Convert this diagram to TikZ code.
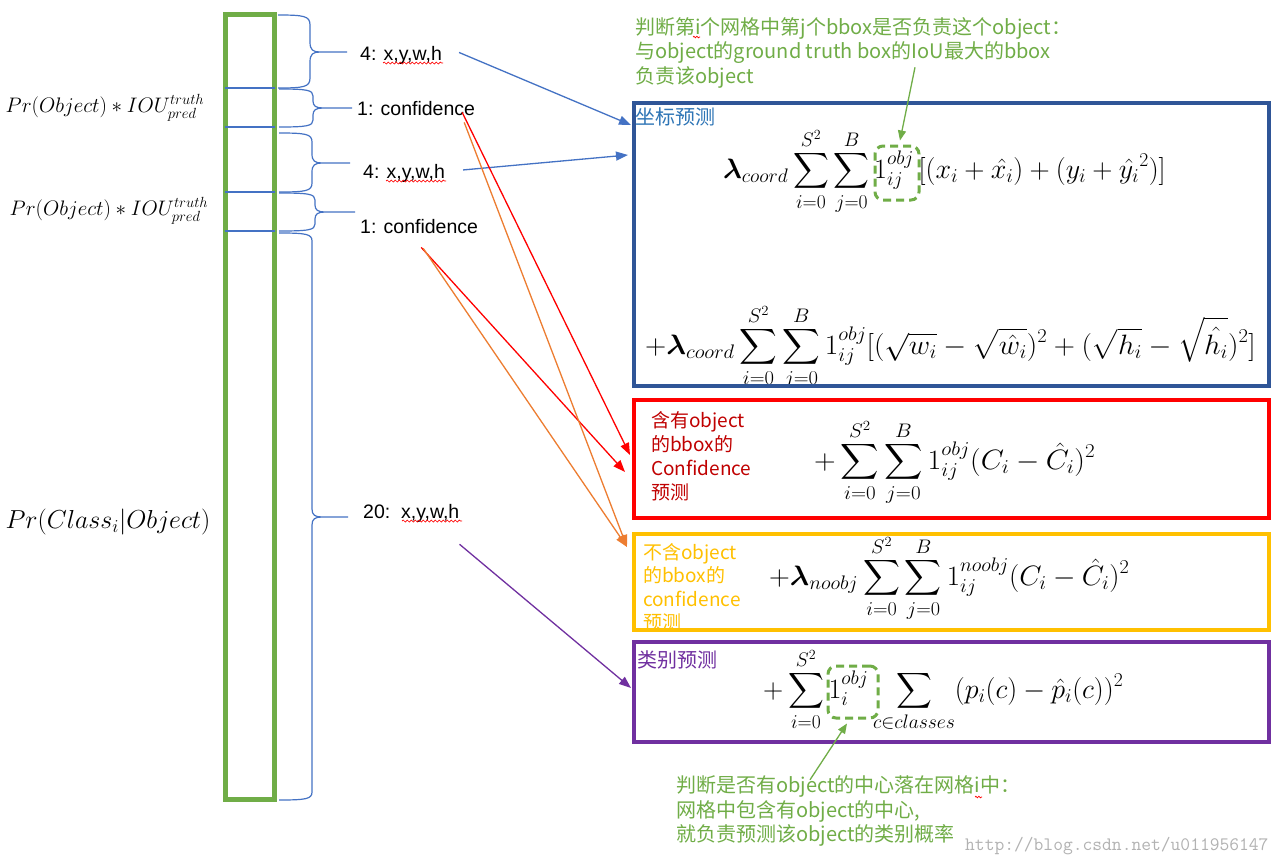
\RequirePackage{fix-cm}
\documentclass[tikz,border=0pt]{standalone}
\usepackage{amsmath}
\usepackage{graphicx}
\usepackage{fontspec}
\usetikzlibrary{arrows.meta,calc,decorations.pathmorphing}
\newfontfamily\cjk{Noto Sans CJK SC}
\newfontfamily\lblfont{Liberation Sans}
\definecolor{cgreen}{HTML}{70AD47}
\definecolor{cblue}{HTML}{4472C4}
\definecolor{cdblue}{HTML}{2F5597}
\definecolor{clblue}{HTML}{2E75B6}
\definecolor{cred}{HTML}{FF0000}
\definecolor{cdred}{HTML}{C00000}
\definecolor{cyellow}{HTML}{FFC000}
\definecolor{corange}{HTML}{ED7D31}
\definecolor{cpurple}{HTML}{7030A0}
\newcommand\mybrace[7]{% x0, spine, tip, ytop, ymid, ybot, r
  \draw[brc] (#1,#4) .. controls (#2-6,#4) and (#2,#4+1) .. (#2,#4+#7)
    -- (#2,#5-#7) .. controls (#2,#5-2) and (#2+3,#5) .. (#2+10,#5) -- (#3,#5)
    (#2+10,#5) .. controls (#2+3,#5) and (#2,#5+2) .. (#2,#5+#7)
    -- (#2,#6-#7) .. controls (#2,#6-1) and (#2-6,#6) .. (#1,#6);}
\newcommand\lcoord{\boldsymbol{\lambda}_{coord}}
\newcommand\lnoobj{\boldsymbol{\lambda}_{noobj}}
\tikzset{
  lbl/.style={font=\lblfont\fontsize{19.5}{22}\selectfont, inner sep=0, anchor=base west},
  cn/.style={font=\cjk\fontsize{20}{24}\selectfont, inner sep=0, align=left, anchor=north west},
  frm/.style={inner sep=0, anchor=west, font=\fontsize{28}{32}\selectfont},
  leftmath/.style={inner sep=0, font=\fontsize{21}{25}\selectfont},
  lossbox/.style={draw, line width=4pt, minimum width=635pt, inner sep=0, outer sep=0},
  brc/.style={draw=cblue, line width=1.2pt},
  arr/.style={line width=1.3pt, -{Triangle[length=12pt,width=9pt]}},
  garr/.style={draw=cgreen, line width=1.3pt, -{Triangle[length=10pt,width=8pt]}},
  dashbox/.style={draw=cgreen, line width=3pt, dash pattern=on 8pt off 5pt, rounded corners=8pt, inner sep=0},
  squig/.style={draw=red, line width=0.7pt, decorate, decoration={snake, segment length=4pt, amplitude=1pt}}
}
\begin{document}
\begin{tikzpicture}[x=1pt,y=-1pt]
\useasboundingbox (0,0) rectangle (1286,865);
\fill[white] (0,0) rectangle (1286,865);

% green column
\draw[cgreen, line width=5pt] (225.5,14.5) rectangle (274.5,799.5);
\foreach \yy in {88,127,192,231} \draw[cblue, line width=1.2pt] (225,\yy) -- (275,\yy);

% braces
\mybrace{278}{310}{347}{15}{52}{88}{10}
\mybrace{279}{313}{352}{89}{108}{127}{7}
\mybrace{279}{312}{350}{133}{163}{192}{9}
\mybrace{279}{315}{355}{193}{212}{231}{7}
\mybrace{279}{312}{348}{233}{517}{800}{8}

% left math labels
\node[leftmath] (prA) at (105,108) {$Pr(Object)*IOU^{truth}_{pred}$};
\node[leftmath] (prB) at (109,211) {$Pr(Object)*IOU^{truth}_{pred}$};
\node[leftmath, font=\fontsize{26}{30}\selectfont] (prC) at (108,522) {$Pr(Class_i|Object)$};

% middle labels
\node[lbl] (xywhA) at (360,60.5) {4: x,y,w,h};
\node[lbl] (confA) at (357,115) {1: confidence};
\node[lbl] (xywhB) at (363,178) {4: x,y,w,h};
\node[lbl] (confB) at (360,233) {1: confidence};
\node[lbl] (xywhC) at (363,518) {20:\ \ x,y,w,h};
\draw[squig] (383,63) -- (443,63);
\draw[squig] (386,181) -- (446,181);
\draw[squig] (402,521) -- (462,521);

% annotations
\node[cn, text=cgreen, font=\cjk\fontsize{20}{24.5}\selectfont] (annA) at (635,17.3) {判断第i个网格中第j个bbox是否负责这个object：\\与object的ground truth box的IoU最大的bbox\\负责该object};
\draw[squig, decoration={snake, segment length=3pt, amplitude=0.8pt}] (693,37) -- (700,37);
\node[cn, text=cgreen, font=\cjk\fontsize{20}{24.5}\selectfont] (annB) at (676,775.8) {判断是否有object的中心落在网格i中：\\网格中包含有object的中心,\\就负责预测该object的类别概率};
\draw[squig, decoration={snake, segment length=3pt, amplitude=0.8pt}] (975,797) -- (982,797);
\node[inner sep=0, anchor=base west, font=\ttfamily\fontsize{19}{22}\selectfont, text=black!30] (wm) at (965,850) {http://blog.csdn.net/u011956147};

% box labels
\node[cn, anchor=west, text=clblue] (coordlbl) at (635,117) {坐标预测};
\node[cn, text=cdred, font=\cjk\fontsize{19}{24}\selectfont] (objlbl) at (651,410.8) {含有object\\的bbox的\\Confidence\\预测};
\node[cn, text=cyellow, font=\cjk\fontsize{19}{23.5}\selectfont] (noobjlbl) at (643,542.8) {不含object\\的bbox的\\confidence\\预测};
\node[cn, anchor=west, text=cpurple] (clslbl) at (637,660) {类别预测};

% formulas
\node[frm] (fA) at (723,171) {$\displaystyle \lcoord\sum_{i=0}^{S^2}\sum_{j=0}^{B}1_{ij}^{obj}\,[(x_i+\hat{x_i})+(y_i+\hat{y_i}^2)]$};
\node[frm] (fB) at (645,347) {\scalebox{1.05}[1]{$\displaystyle +\lcoord\sum_{i=0}^{S^2}\sum_{j=0}^{B}1_{ij}^{obj}[(\sqrt{w_i}-\sqrt{\hat{w_i}})^2+(\sqrt{h_i}-\sqrt{\hat{h_i}})^2]$}};
\node[frm] (fC) at (814,462) {\scalebox{1.07}[1]{$\displaystyle +\sum_{i=0}^{S^2}\sum_{j=0}^{B}1_{ij}^{obj}(C_i-\hat{C_i})^2$}};
\node[frm] (fD) at (769,578) {\scalebox{1.03}[1]{$\displaystyle +\lnoobj\sum_{i=0}^{S^2}\sum_{j=0}^{B}1_{ij}^{noobj}(C_i-\hat{C_i})^2$}};
\node[frm] (fE) at (763,690) {$\displaystyle +\sum_{i=0}^{S^2}1_{i}^{obj}\sum_{c\in classes}(p_i(c)-\hat{p}_i(c))^2$};

% loss boxes
\node[lossbox, draw=cdblue, minimum height=283pt] (coordbox) at (951.5,244.5) {};
\node[lossbox, draw=cred, minimum height=118pt] (objbox) at (951.5,459) {};
\node[lossbox, draw=cyellow, minimum height=96pt] (noobjbox) at (951.5,582) {};
\node[lossbox, draw=cpurple, minimum height=100pt] (clsbox) at (951.5,692) {};

% dashed highlight boxes
\node[dashbox, minimum width=44pt, minimum height=54pt] (dashA) at (897,173) {};
\node[dashbox, minimum width=50pt, minimum height=52pt] (dashB) at (853,692) {};

% connectors
\draw[arr, cblue] ($(xywhA.east)+(17,-3)$) -- ($(coordbox.north west)+(-3,22)$);
\draw[arr, cblue] ($(xywhB.east)+(18,-3)$) -- ($(coordbox.north west)+(-6,52)$);
\draw[arr, cred] ($(confA.south east)+(-13,-3)$) -- ($(objbox.north west)+(-4,55)$);
\draw[arr, cred] ($(confB.south east)+(-57,14)$) -- ($(objbox.north west)+(-9,72)$);
\draw[arr, corange] ($(confA.south east)+(-11,7)$) -- ($(noobjbox.north west)+(-7,13)$);
\draw[arr, corange] ($(confB.south east)+(-55,15)$) -- ($(noobjbox.north west)+(-7,13)$);
\draw[arr, cpurple] ($(xywhC.south east)+(0,22)$) -- ($(clsbox.north west)+(-3,46)$);
\draw[garr] ($(annA.north west)+(280,50)$) -- ($(dashA.north)+(3,-4)$);
\draw[garr] ($(annB.north west)+(134,4)$) -- ($(dashB.south)+(-6,4)$);
\end{tikzpicture}
\end{document}
